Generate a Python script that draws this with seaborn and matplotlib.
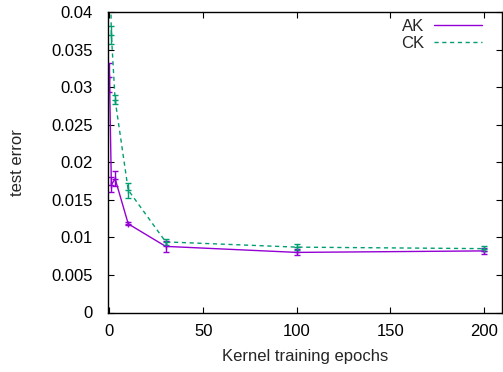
import matplotlib
matplotlib.use("Agg")
import matplotlib.pyplot as plt
import seaborn as sns
import numpy as np
import pandas as pd

epochs = [0, 1, 3, 10, 30, 100, 200]
ak_err = [0.0313, 0.0170, 0.0178, 0.0118, 0.0088, 0.0080, 0.0082]
ak_sd = [0.0019, 0.0010, 0.0010, 0.0002, 0.0007, 0.0004, 0.0004]
ck_err = [0.0500, 0.0370, 0.0283, 0.0163, 0.0094, 0.0087, 0.0085]
ck_sd = [0.0000, 0.0012, 0.0006, 0.0010, 0.0004, 0.0004, 0.0003]

sns.set_style("ticks")
plt.rcParams['font.family'] = ['Liberation Sans', 'DejaVu Sans']

fig = plt.figure(figsize=(5.03, 3.72), dpi=100)
ax = fig.add_axes([108/503, 1-312.5/372, (502.5-108)/503, (312.5-12)/372])

df = pd.DataFrame({
    "epochs": epochs * 2,
    "err": ak_err + ck_err,
    "kernel": ["AK"] * len(epochs) + ["CK"] * len(epochs),
})
purple = "#9400D3"
green = "#009E73"
sns.lineplot(data=df[df.kernel == "AK"], x="epochs", y="err", ax=ax,
             color=purple, lw=1, label="AK")
sns.lineplot(data=df[df.kernel == "CK"], x="epochs", y="err", ax=ax,
             color=green, lw=1, ls=(0, (3, 2.6)), label="CK")
ax.errorbar(epochs, ak_err, yerr=ak_sd, fmt='+', color=purple, ms=4,
            capsize=2, elinewidth=1, capthick=1, mew=1)
ax.errorbar(epochs[1:], ck_err[1:], yerr=ck_sd[1:], fmt='+', color=green, ms=4,
            capsize=2, elinewidth=1, capthick=1, mew=1)

fs = 12
ax.set_xlim(-0.8, 209.8)
ax.set_ylim(0, 0.04)
ax.set_xticks([0, 50, 100, 150, 200])
ax.set_yticks(np.arange(0, 0.0401, 0.005))
ax.set_yticklabels(["0", "0.005", "0.01", "0.015", "0.02", "0.025", "0.03", "0.035", "0.04"])
ax.tick_params(direction="in", top=True, right=True, length=4, width=0.8,
               labelsize=fs, colors="black")
ax.tick_params(axis="y", pad=11)
ax.tick_params(axis="x", pad=8)
for s in ax.spines.values():
    s.set_visible(True)
    s.set_color("black")
    s.set_linewidth(1)
ax.set_xlabel("Kernel training epochs", fontsize=fs, labelpad=7.5)
ax.set_ylabel("test error", fontsize=fs, labelpad=19)
leg = ax.legend(loc="upper right", frameon=False, markerfirst=False,
                fontsize=fs, handlelength=2.85, handletextpad=0.6,
                labelspacing=0.1, borderaxespad=0.0, borderpad=0.0,
                bbox_to_anchor=((481.7 - 108) / 394.5, 1 - 7/300.5),
                bbox_transform=ax.transAxes)
ax.grid(False)
fig.savefig("out.png", dpi=100)
